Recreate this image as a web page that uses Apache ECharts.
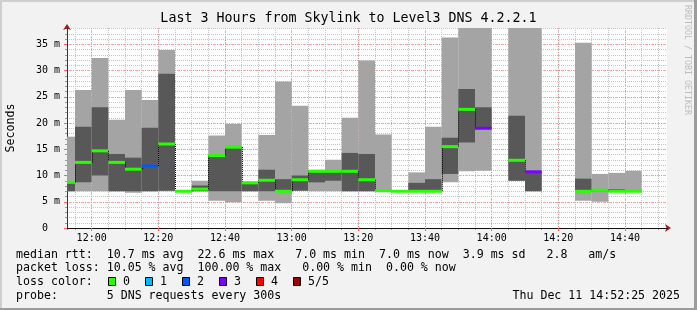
<!DOCTYPE html>
<html>
<head>
<meta charset="utf-8">
<script src="https://cdn.jsdelivr.net/npm/echarts@6/dist/echarts.min.js"></script>
<style>
html,body{margin:0;padding:0;background:#f2f2f2;}
#c{width:697px;height:310px;}
</style>
</head>
<body>
<div id="c"></div>
<script>
// ---- data (5-minute intervals, values in ms) ----
const startTimes = ["11:50","11:55","12:00","12:05","12:10","12:15","12:20","12:25","12:30","12:35",
  "12:40","12:45","12:50","12:55","13:00","13:05","13:10","13:15","13:20","13:25",
  "13:30","13:35","13:40","13:45","13:50","13:55","14:00","14:05","14:10","14:15",
  "14:20","14:25","14:30","14:35","14:40","14:45","14:50"];
const pingMin = [7.0,7.0,7.0,7.0,6.7,7.0,7.0,6.9,7.0,5.2,
  4.9,7.0,5.2,4.7,7.1,7.0,7.0,7.0,7.0,7.0,
  6.9,7.0,7.0,8.7,10.8,10.9,null,9.0,7.0,null,
  null,5.2,5.0,7.0,7.0,null,null];
const pingLow = [7.0,8.7,10.0,7.0,7.0,7.0,7.1,7.0,7.0,7.0,
  7.0,7.0,7.0,7.0,7.1,8.7,9.0,7.0,7.0,7.0,
  7.0,7.0,7.0,10.3,16.3,19.0,null,9.0,7.0,null,
  null,7.0,7.0,7.0,7.0,null,null];
const medianRtt = [8.7,12.5,14.7,12.5,11.2,11.8,16.0,7.0,7.4,13.8,
  15.4,8.6,9.1,7.0,9.2,10.8,10.8,10.8,9.2,7.1,
  7.0,7.0,7.0,15.5,22.6,19.0,null,12.9,10.7,null,
  null,7.0,7.2,7.0,7.0,null,null];
const pingHigh = [8.9,19.3,23.0,14.1,13.4,19.1,29.4,7.0,8.1,13.9,
  15.5,8.7,11.1,9.3,10.0,11.0,11.0,14.3,14.1,7.2,
  7.0,8.6,9.3,17.2,26.5,23.0,null,21.4,10.8,null,
  null,9.4,7.3,7.4,7.1,null,null];
const pingMax = [17.4,26.3,32.4,20.6,26.3,24.4,33.9,7.1,9.0,17.6,
  19.8,8.8,17.7,27.9,23.3,11.1,13.0,21.0,31.9,17.8,
  7.1,10.6,19.3,36.3,48.0,46.0,null,52.0,50.0,null,
  null,35.3,10.3,10.5,10.9,null,null];
const lossCount = [0,0,0,0,0,2,0,0,0,0,
  0,0,0,0,0,0,0,0,0,0,
  0,0,0,0,0,3,5,0,3,5,
  5,0,0,0,0,null,null];
const lossLabels = ["0","1","2","3","4","5/5"];
const lossColors = ["#26ff00","#00b8ff","#0059ff","#7e00ff","#ff0000","#a00000"];
const yTickValues = [0,5,10,15,20,25,30,35];
const rttStats = ["10.7","22.6","7.0","7.0","3.9","2.8"];
const lossStats = ["10.05","100.00","0.00","0.00"];
const titleText = "Last 3 Hours from Skylink to Level3 DNS 4.2.2.1";
const probeText = "5 DNS requests every 300s";
const stampText = "Thu Dec 11 14:52:25 2025";
const viewStart = "11:52:36";
const viewEnd = "14:52:36";
const stepMinutes = 5;

// ---- helpers ----
function toMin(s){ const p = s.split(":").map(Number); return p[0]*60 + p[1] + (p[2]||0)/60; }
function fmtMin(v){ const h = Math.floor(v/60), m = Math.round(v - h*60); return (h<10?"0":"")+h+":"+(m<10?"0":"")+m; }
const FONT = '"DejaVu Sans Mono", monospace';
const LIGHT = "#a4a4a4", DARK = "#585858", ARROW = "#9b1c1c";

const data = [];
for (let i = 0; i < startTimes.length; i++) {
  if (medianRtt[i] == null) continue;
  const t0 = toMin(startTimes[i]);
  const prev = (i > 0 && medianRtt[i-1] != null) ? medianRtt[i-1] : "-";
  data.push([t0, t0 + stepMinutes, pingMin[i], pingLow[i], medianRtt[i], pingHigh[i], pingMax[i], lossCount[i], prev]);
}

function renderItem(params, api) {
  const cs = params.coordSys;
  const bounds = {x: cs.x, y: cs.y, width: cs.width, height: cs.height};
  const t0 = api.value(0), t1 = api.value(1);
  const rect = (a, b) => {
    const p0 = api.coord([t0, b]), p1 = api.coord([t1, a]);
    return echarts.graphic.clipRectByRect({x: p0[0], y: p0[1], width: p1[0]-p0[0], height: p1[1]-p0[1]}, bounds);
  };
  const children = [];
  const light = rect(api.value(2), api.value(6));
  if (light) children.push({type:"rect", shape: light, style:{fill: LIGHT}});
  const dark = rect(api.value(3), api.value(5));
  if (dark) children.push({type:"rect", shape: dark, style:{fill: DARK}});
  const med = api.value(4);
  const prev = api.value(8);
  if (!isNaN(prev)) {
    const a = api.coord([t0, prev]), b = api.coord([t0, med]);
    if (a[0] >= cs.x) children.push({type:"line", shape:{x1: Math.round(a[0])+0.5, y1: a[1], x2: Math.round(b[0])+0.5, y2: b[1]},
      style:{stroke:"#000", lineWidth:1, lineDash:[1,1]}});
  }
  const m0 = api.coord([t0, med]), m1 = api.coord([t1, med]);
  const mr = echarts.graphic.clipRectByRect({x: m0[0], y: m0[1]-1.5, width: m1[0]-m0[0], height: 3}, bounds);
  if (mr) children.push({type:"rect", shape: mr, style:{fill: lossColors[api.value(7)]}});
  return {type:"group", children};
}

const chart = echarts.init(document.getElementById("c"), null, {renderer:"canvas"});

const xMin = toMin(viewStart), xMax = toMin(viewEnd);
const yMax = 38.1;

// legend graphics
const legendY = [254.5, 268.3, 282, 296];
const line1 = "median rtt:  " + rttStats[0] + " ms avg  " + rttStats[1] + " ms max   " + rttStats[2] + " ms min  " +
  rttStats[3] + " ms now  " + rttStats[4] + " ms sd   " + rttStats[5] + "   am/s";
const line2 = "packet loss: " + lossStats[0] + " % avg  " + lossStats[1] + " % max   " + lossStats[2] + " % min  " + lossStats[3] + " % now";
const line4 = "probe:       " + probeText;
const txt = (text, x, y, size, opts) => Object.assign({type:"text", x: x, y: y, silent:true,
  style: Object.assign({text: text, font: size + "px " + FONT, fill:"#000", textAlign:"left", align:"left", textVerticalAlign:"middle", verticalAlign:"middle"}, opts||{})});

const graphics = [
  {type:"rect", shape:{x:0,y:0,width:697,height:2}, style:{fill:"#cfcfcf"}, silent:true},
  {type:"rect", shape:{x:0,y:0,width:2,height:310}, style:{fill:"#cfcfcf"}, silent:true},
  {type:"rect", shape:{x:694,y:0,width:3,height:310}, style:{fill:"#9c9c9c"}, silent:true},
  {type:"rect", shape:{x:0,y:308,width:697,height:2}, style:{fill:"#9c9c9c"}, silent:true},
  txt(titleText, 348.5, 19, 13.3, {textAlign:"center", align:"center"}),
  txt(line1, 16, legendY[0], 11.6),
  txt(line2, 16, legendY[1], 11.6),
  txt("loss color:", 16, legendY[2], 11.6),
  txt(line4, 16, legendY[3], 11.6),
  txt(stampText, 680, legendY[3], 11.6, {textAlign:"right", align:"right"}),
  {type:"text", x: 687.5, y: 5, rotation: -Math.PI/2, silent:true,
    style:{text:"RRDTOOL / TOBI OETIKER", font:"8.3px " + FONT, fill:"#bdbdbd", textAlign:"left", align:"left", textVerticalAlign:"middle", verticalAlign:"middle"}}
];
lossLabels.forEach((lab, i) => {
  const bx = 108.5 + i * 37.0;
  graphics.push({type:"rect", shape:{x: bx, y: 277.5, width: 7, height: 8}, style:{fill: lossColors[i], stroke:"#000", lineWidth:1}, silent:true});
  graphics.push(txt(lab, bx + 14.5, legendY[2], 11.6));
});

const option = {
  animation: false,
  backgroundColor: "#f2f2f2",
  grid: {left: 67, right: 30, top: 28, height: 200, show: true, backgroundColor: "#ffffff", borderWidth: 0, containLabel: false, outerBoundsMode: "none"},
  xAxis: [
    { type:"value", position:"bottom", offset:0, min: xMin, max: xMax, minInterval: 5, maxInterval: 5, z: 0,
      axisLine:{show:true, onZero:false, lineStyle:{color: ARROW, width:0}, symbol:["none","arrow"], symbolSize:[6,6], symbolOffset:[0,4]},
      axisTick:{show:true, length:2, lineStyle:{color:"#999"}},
      axisLabel:{show:false},
      splitLine:{show:true, showMinLine:false, showMaxLine:false, lineStyle:{color:"#c4c4c4", type:[1,1], width:1}} },
    { type:"value", position:"bottom", offset:0, min: xMin, max: xMax, minInterval: 20, maxInterval: 20, z: 1,
      axisLine:{show:true, onZero:false, lineStyle:{color:"#111", width:1}},
      axisTick:{show:true, length:3, lineStyle:{color:"#ff5f5f"}},
      axisLabel:{show:true, margin:5, fontFamily: FONT, fontSize:10, color:"#000", showMinLabel:false, showMaxLabel:false, formatter: fmtMin},
      splitLine:{show:true, showMinLine:false, showMaxLine:false, lineStyle:{color:"rgba(255,95,95,0.6)", type:[1,2], width:1}} }
  ],
  yAxis: [
    { type:"value", position:"left", offset:0, min: 0, max: yMax, interval: 5, z: 1,
      name:"Seconds", nameLocation:"middle", nameGap: 50, nameRotate: 90,
      nameTextStyle:{fontFamily: FONT, fontSize: 11.6, color:"#000"},
      axisLine:{show:true, onZero:false, lineStyle:{color:"#333", width:1}},
      axisTick:{show:true, length:3, lineStyle:{color:"#ff5f5f"}},
      axisLabel:{show:true, margin:7, fontFamily: FONT, fontSize:10, color:"#000", showMaxLabel:false,
        formatter: v => (yTickValues.indexOf(v) < 0 ? "" : (v === 0 ? "0  " : v + " m"))},
      splitLine:{show:true, showMinLine:false, showMaxLine:false, lineStyle:{color:"rgba(255,95,95,0.6)", type:[1,2], width:1}} },
    { type:"value", position:"left", offset: 0, min: 0, max: yMax, interval: 1, z: 0,
      axisLine:{show:true, onZero:false, lineStyle:{color: ARROW, width:0}, symbol:["none","arrow"], symbolSize:[6,6], symbolOffset:[0,4]},
      axisTick:{show:true, length:2, lineStyle:{color:"#999"}},
      axisLabel:{show:false},
      splitLine:{show:true, showMinLine:false, showMaxLine:false, lineStyle:{color:"#c4c4c4", type:[1,1], width:1}} }
  ],
  series: [{
    type:"custom", xAxisIndex: 1, yAxisIndex: 0, z: 3,
    renderItem: renderItem,
    encode: {x:[0,1], y:[2,6]},
    data: data
  }],
  graphic: {elements: graphics}
};
chart.setOption(option);
</script>
</body>
</html>
